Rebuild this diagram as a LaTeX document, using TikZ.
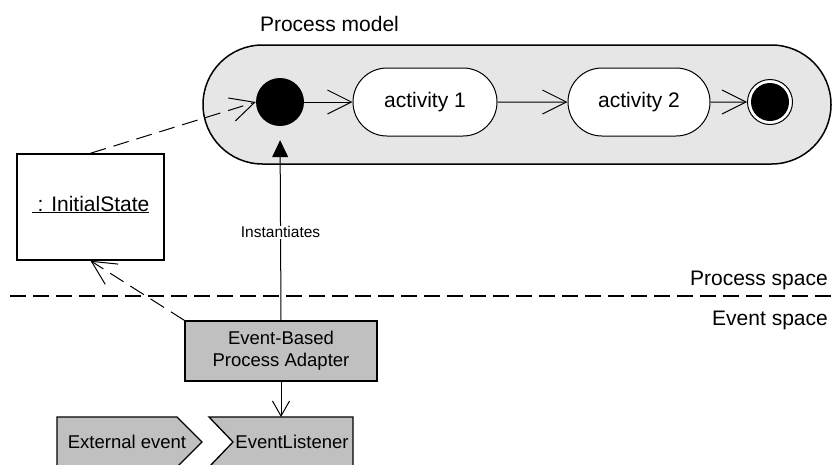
\documentclass[tikz,border=0pt]{standalone}
\usepackage{fontspec}
\setmainfont{Liberation Sans}
\usetikzlibrary{arrows.meta,shapes.misc}
\definecolor{pillgray}{RGB}{230,230,230}
\definecolor{boxgray}{RGB}{192,192,192}
\begin{document}
\begin{tikzpicture}[x=1pt,y=-1pt,
  big/.style={font=\fontsize{21}{25}\selectfont},
  mid/.style={font=\fontsize{18.5}{22}\selectfont},
  small/.style={font=\fontsize{15.5}{18}\selectfont},
  pillshape/.style={rounded rectangle, draw, line width=1.5pt, fill=pillgray,
    minimum width=628pt, minimum height=119pt, inner sep=0pt},
  actbox/.style={rounded rectangle, draw, line width=1pt, fill=white,
    minimum height=68pt, inner sep=0pt, big},
  flow/.style={line width=1pt, -{Straight Barb[length=24pt,width=24pt]}},
  dep/.style={flow, dash pattern=on 16pt off 8pt},
  smallflow/.style={line width=1pt, -{Straight Barb[length=15pt,width=17pt]}},
  grayshape/.style={draw, line width=1.3pt, fill=boxgray},
  freetext/.style={inner sep=0pt}
]
\useasboundingbox (0,0) rectangle (832,464);
\clip (0,0) rectangle (832,464);

% process model container
\node (pill) [pillshape] at (517,104.5) {};
\node (pmlabel) [freetext, big, anchor=base] at (329.5,31.5) {Process model};

% states and activities
\node (init) [circle, fill=black, minimum size=48pt, inner sep=0pt] at (280,102) {};
\node (act1) [actbox, minimum width=144pt] at (425,102) {activity 1};
\node (act2) [actbox, minimum width=142pt] at (639,102) {activity 2};
\node (final) [circle, draw, line width=1pt, fill=white, minimum size=45pt, inner sep=0pt] at (770,102) {};
\fill (final.center) circle (19pt);

\draw[flow] (init) -- (act1);
\draw[flow] (act1) -- (act2);
\draw[flow] (act2) -- (final);

% initial state object
\node (isbox) [rectangle, draw, line width=1.5pt, fill=white, minimum width=147pt,
  minimum height=106pt, big, text height=15pt, text depth=7pt] at (90.5,207)
  {\underline{\hspace{6pt}: InitialState}};

% separator
\coordinate (sepL) at (10,296);
\coordinate (sepR) at (831,296);
\draw[line width=2pt, dash pattern=on 16pt off 7pt] (sepL) -- (sepR);
\node (pspace) [freetext, big, anchor=base east] at (828,285) {Process space};
\node (espace) [freetext, big, anchor=base east] at (828,325) {Event space};

% adapter
\node (adapter) [rectangle, grayshape, mid, minimum width=192pt, minimum height=60pt,
  align=center] at (281,351) {Event-Based\\Process Adapter};

% event shapes
\draw[grayshape] (57,417) -- (177,417) -- (202,442) -- (177,467) -- (57,467) -- cycle;
\node (extev) [freetext, mid] at (127,442) {External event};
\draw[grayshape] (209,417) -- (353,417) -- (353,467) -- (209,467) -- (233,442) -- cycle;
\node (listener) [freetext, mid] at (292,442) {EventListener};
\coordinate (lstop) at (281,417);

% connectors
\draw[dep] (isbox.north) -- (init.west);
\draw[dep] (adapter.north west) -- (isbox.south);
\draw[line width=1pt, -{Triangle[length=17pt,width=16pt]}, shorten >=14pt]
  (adapter.north) -- node[pos=0.454, fill=white, inner sep=1pt, small] {Instantiates} (init.south);
\draw[smallflow] (adapter.south) -- (lstop);
\end{tikzpicture}
\end{document}
